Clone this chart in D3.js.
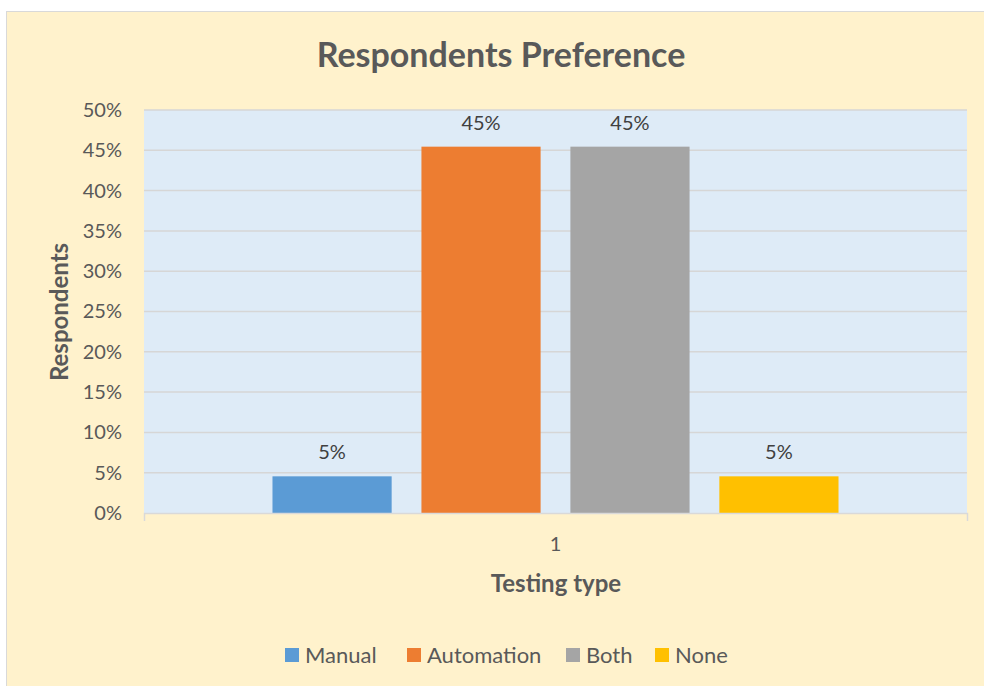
<!DOCTYPE html>
<html>
<head>
<meta charset="utf-8">
<script src="https://cdn.jsdelivr.net/npm/d3@7"></script>
<style>
  body { margin: 0; background: #fff; }
  svg text { font-family: Lato, "Open Sans", sans-serif; fill: #595959; }
</style>
</head>
<body>
<div id="chart"></div>
<script>
// data
var categories = ["1"];
var seriesNames = ["Manual", "Automation", "Both", "None"];
var seriesValues = [0.0455, 0.4545, 0.4545, 0.0455];
var seriesColors = ["#5B9BD5", "#ED7D31", "#A5A5A5", "#FFC000"];
var yTicks = [0, 0.05, 0.10, 0.15, 0.20, 0.25, 0.30, 0.35, 0.40, 0.45, 0.50];

var w = 984, h = 686;
var plotL = 144, plotT = 110, plotR = 967, plotB = 513;

var svg = d3.select("#chart").append("svg").attr("width", w).attr("height", h).style("display", "block");

// chart area
svg.append("rect").attr("x", 6.5).attr("y", 11.5).attr("width", w - 6).attr("height", h - 11)
  .style("fill", "#FFF2CC").style("stroke", "#D9D9D9");

var g = svg.append("g").attr("transform", "translate(" + plotL + "," + plotT + ")");
var pw = plotR - plotL, ph = plotB - plotT;

g.append("rect").attr("width", pw).attr("height", ph).style("fill", "#DEEBF7");

var y = d3.scaleLinear().domain([0, 0.5]).range([ph, 0]);
var x0 = d3.scaleBand().domain(categories).range([0, pw]).paddingOuter(0.227);
var x1 = d3.scaleBand().domain(seriesNames).range([0, x0.bandwidth()]).paddingInner(0.2);

// gridlines
g.selectAll(".grid").data(yTicks.slice(1)).enter().append("line")
  .attr("x1", 0).attr("x2", pw)
  .attr("y1", function(d){ return y(d); }).attr("y2", function(d){ return y(d); })
  .style("stroke", "#D6D6D6").style("stroke-width", 1.5);

// y axis labels
var yAxis = d3.axisLeft(y).tickValues(yTicks).tickFormat(d3.format(".0%")).tickSize(0).tickPadding(22);
var ya = g.append("g").call(yAxis);
ya.select(".domain").remove();
ya.selectAll("text").style("font-size", "20px").style("fill", "#595959").style("font-family", "Lato, sans-serif");

// bars
g.selectAll(".bar").data(seriesValues).enter().append("rect")
  .attr("x", function(d, i){ return x0(categories[0]) + x1(seriesNames[i]); })
  .attr("y", function(d){ return y(d); })
  .attr("width", x1.bandwidth())
  .attr("height", function(d){ return ph - y(d); })
  .style("fill", function(d, i){ return seriesColors[i]; });

// data labels
g.selectAll(".lbl").data(seriesValues).enter().append("text")
  .attr("x", function(d, i){ return x0(categories[0]) + x1(seriesNames[i]) + x1.bandwidth() / 2; })
  .attr("y", function(d){ return y(d) - 17; })
  .attr("text-anchor", "middle")
  .style("font-size", "20px").style("fill", "#404040")
  .text(function(d){ return d3.format(".0%")(d); });

// x axis
var xAxis = d3.axisBottom(x0).tickSizeInner(0).tickSizeOuter(8).tickPadding(24);
var xa = g.append("g").attr("transform", "translate(0," + ph + ")").call(xAxis);
xa.select(".domain").style("stroke", "#D9D9D9").style("stroke-width", 1.5);
xa.selectAll("text").style("font-size", "20px").style("fill", "#595959").style("font-family", "Lato, sans-serif");

// titles
svg.append("text").attr("x", 501).attr("y", 67).attr("text-anchor", "middle")
  .style("font-size", "34px").style("font-weight", "bold").text("Respondents Preference");

svg.append("text").attr("x", 556).attr("y", 592).attr("text-anchor", "middle")
  .style("font-size", "24px").style("font-weight", "bold").text("Testing type");

svg.append("text").attr("transform", "translate(68,312) rotate(-90)").attr("text-anchor", "middle")
  .style("font-size", "24px").style("font-weight", "bold").text("Respondents");

// legend
var legendX = [285, 407, 566, 655];
var lg = svg.selectAll(".leg").data(seriesNames).enter().append("g")
  .attr("transform", function(d, i){ return "translate(" + legendX[i] + ",648)"; });
lg.append("rect").attr("width", 14).attr("height", 14)
  .style("fill", function(d, i){ return seriesColors[i]; });
lg.append("text").attr("x", 20).attr("y", 14.5)
  .style("font-size", "22px").text(function(d){ return d; });
</script>
</body>
</html>
